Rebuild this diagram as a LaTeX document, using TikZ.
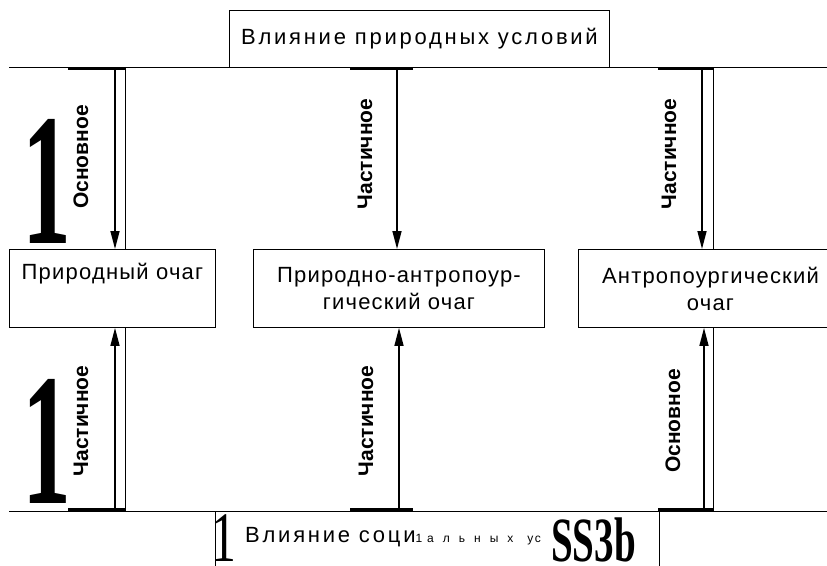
\documentclass[tikz,border=0pt]{standalone}
\usepackage{fontspec}
\setmainfont{Liberation Sans}
\newfontfamily\widesans[LetterSpace=12.5]{Liberation Sans}
\newfontfamily\boxsans[LetterSpace=5.5]{Liberation Sans}
\newfontfamily\oldserif{Liberation Serif}
\usetikzlibrary{arrows.meta}

\begin{document}
\begin{tikzpicture}[x=1pt,y=-1pt,
  box/.style={draw,line width=0.9pt,inner sep=0pt,anchor=north west,align=center,
    font=\boxsans\fontsize{22}{27}\selectfont},
  arr/.style={line width=1.5pt,-{Triangle[length=18pt,width=9pt]}},
  lab/.style={rotate=90,inner sep=0pt,font=\bfseries\fontsize{21}{21}\selectfont},
  bar/.style={line width=3pt},
  thin/.style={line width=0.9pt},
  bigone/.style={inner sep=0pt,font=\oldserif\bfseries\fontsize{188}{188}\selectfont,xscale=0.52}]
\useasboundingbox (0,0) rectangle (827,565);
\clip (0,0) rectangle (827,565);
% influences: top and bottom
\node[box,minimum width=380,minimum height=57,font=\widesans\fontsize{22}{22}\selectfont] (nat) at (229,10) {Влияние природных условий};
\node[box,minimum width=444,minimum height=80] (soc) at (215,511) {};
\draw[thin] (9,67) -- (827,67);
\draw[thin] (9,511) -- (827,511);
% the three foci
\node[box,minimum width=206,minimum height=78] (foc1) at (9,249) {Природный очаг\\\strut};
\node[box,minimum width=291,minimum height=78] (foc2) at (253,249) {Природно-антропоур-\\гический очаг};
\node[box,minimum width=264,minimum height=78] (foc3) at (578,249) {Антропоургический\\очаг};
% bars on the lines
\foreach \a/\b in {68/125,350/413,658/713}{
  \draw[bar] (\a,68) -- (\b,68);
  \draw[bar] (\a,509) -- (\b,509);
}
% side lines
\foreach \x in {125,713}{
  \draw[thin] (\x,67) -- (\x,249);
  \draw[thin] (\x,327) -- (\x,511);
}
% arrows down from the natural conditions
\coordinate (t1) at (115,67);
\coordinate (t2) at (397,67);
\coordinate (t3) at (702,67);
\draw[arr] (t1) -- (t1 |- foc1.north);
\draw[arr] (t2) -- (t2 |- foc2.north);
\draw[arr] (t3) -- (t3 |- foc3.north);
% arrows up from the social conditions
\coordinate (b1) at (115,511);
\coordinate (b2) at (399,511);
\coordinate (b3) at (704,511);
\draw[arr] (b1) -- (b1 |- foc1.south);
\draw[arr] (b2) -- (b2 |- foc2.south);
\draw[arr] (b3) -- (b3 |- foc3.south);
% labels on the arrows
\node[lab] (l1) at (81,157) {Основное};
\node[lab] (l2) at (365,154) {Частичное};
\node[lab] (l3) at (669,154) {Частичное};
\node[lab] (l4) at (81,421) {Частичное};
\node[lab] (l5) at (366,421) {Частичное};
\node[lab] (l6) at (673,421) {Основное};
% big figures
\node[bigone] (one1) at (47,181) {1};
\node[bigone] (one2) at (47,441) {1};
% text of the bottom box
\node[inner sep=0pt,font=\oldserif\fontsize{71}{71}\selectfont,xscale=0.7] (one3) at (224,538) {1};
\node[inner sep=0pt,anchor=base west,font=\widesans\fontsize{22}{22}\selectfont] (soctext) at (245,542)
  {Влияние соци{\fontsize{12}{12}\selectfont 1\hspace{5pt}а\hspace{9pt}л\hspace{9pt}ь\hspace{9pt}н\hspace{9pt}ы\hspace{9pt}х\hspace{14pt}ус}};
\node[inner sep=0pt,anchor=base west,font=\oldserif\bfseries\fontsize{63}{63}\selectfont,xscale=0.62] (socend) at (551,561) {SS3b};
\end{tikzpicture}
\end{document}
